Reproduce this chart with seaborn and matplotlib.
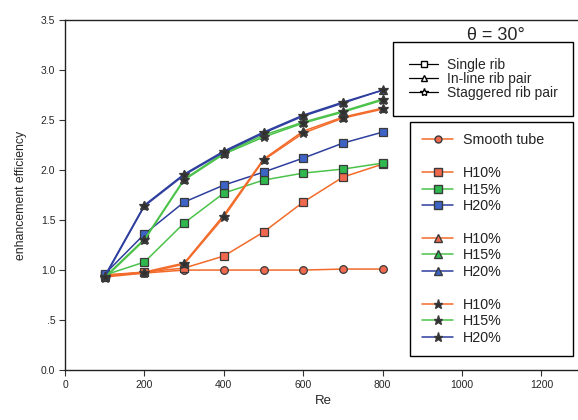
import matplotlib
matplotlib.use("Agg")
import matplotlib.pyplot as plt
from matplotlib.lines import Line2D
import pandas as pd
import seaborn as sns

RE = [100, 200, 300, 400, 500, 600, 700, 800]

SMOOTH = [0.95, 0.97, 1.00, 1.00, 1.00, 1.00, 1.01, 1.01]

SINGLE_H10 = [0.95, 0.98, 1.02, 1.14, 1.38, 1.68, 1.93, 2.06]
SINGLE_H15 = [0.95, 1.08, 1.47, 1.77, 1.90, 1.97, 2.01, 2.07]
SINGLE_H20 = [0.96, 1.36, 1.68, 1.85, 1.98, 2.12, 2.27, 2.38]

INLINE_H10 = [0.94, 0.98, 1.07, 1.55, 2.11, 2.39, 2.53, 2.62]
INLINE_H15 = [0.93, 1.31, 1.91, 2.17, 2.35, 2.48, 2.59, 2.71]
INLINE_H20 = [0.94, 1.65, 1.96, 2.19, 2.38, 2.55, 2.68, 2.80]

STAG_H10 = [0.93, 0.97, 1.06, 1.53, 2.10, 2.37, 2.52, 2.61]
STAG_H15 = [0.92, 1.30, 1.90, 2.16, 2.33, 2.47, 2.58, 2.70]
STAG_H20 = [0.93, 1.64, 1.95, 2.18, 2.37, 2.54, 2.67, 2.80]

HEIGHTS = ["H10", "H15", "H20"]
LINE_COLORS = {"H10": "#F26B2A", "H15": "#4CC24A", "H20": "#2E3F9E"}
FILL_COLORS = {"H10": "#F0694E", "H15": "#2FB84E", "H20": "#3D63C6"}
EDGE = "#3A3A3A"
STAR_FILL = "#2F2F2F"

sns.set_theme(style="white")
plt.rcParams["font.family"] = ["Liberation Sans", "DejaVu Sans"]

fig = plt.figure(figsize=(5.78, 4.2), dpi=100)
ax = fig.add_axes([0.1125, 0.119, 0.893, 0.833])


def draw(values, color, marker, fill, size, z):
    df = pd.DataFrame({"Re": RE, "eff": values})
    sns.lineplot(data=df, x="Re", y="eff", color=color, linewidth=1.1, marker=marker,
                 markersize=size, markerfacecolor=fill, markeredgecolor=EDGE,
                 markeredgewidth=0.9, ax=ax, zorder=z)


draw(SMOOTH, LINE_COLORS["H10"], "o", FILL_COLORS["H10"], 5.5, 3)
for key, vals in zip(HEIGHTS, [SINGLE_H10, SINGLE_H15, SINGLE_H20]):
    draw(vals, LINE_COLORS[key], "s", FILL_COLORS[key], 6, 3)
for key, vals in zip(HEIGHTS, [INLINE_H10, INLINE_H15, INLINE_H20]):
    draw(vals, LINE_COLORS[key], "^", FILL_COLORS[key], 5.5, 4)
for key, vals in zip(HEIGHTS, [STAG_H10, STAG_H15, STAG_H20]):
    draw(vals, LINE_COLORS[key], "*", STAR_FILL, 7.5, 5)

ax.set_xlim(0, 1300)
ax.set_ylim(0, 3.5)
ax.set_xticks([0, 200, 400, 600, 800, 1000, 1200])
ax.set_yticks([0, 0.5, 1.0, 1.5, 2.0, 2.5, 3.0, 3.5])
ax.set_yticklabels(["0.0", ".5", "1.0", "1.5", "2.0", "2.5", "3.0", "3.5"])
ax.tick_params(axis="both", direction="out", length=4, width=0.8, labelsize=7.5,
               color="#333333", bottom=True, left=True, pad=3)
ax.set_xlabel("Re", fontsize=9.5)
ax.set_ylabel("enhancement efficiency", fontsize=8.8, labelpad=10)
for spine in ax.spines.values():
    spine.set_color("#222222")
    spine.set_linewidth(1.0)

# rib-type legend
rib_handles = [
    Line2D([], [], color="black", lw=0.9, marker="s", markerfacecolor="white",
           markeredgecolor="black", markersize=5),
    Line2D([], [], color="black", lw=0.9, marker="^", markerfacecolor="white",
           markeredgecolor="black", markersize=5),
    Line2D([], [], color="black", lw=0.9, marker="*", markerfacecolor="white",
           markeredgecolor="black", markersize=6),
]
leg1 = ax.legend(rib_handles, ["Single rib", "In-line rib pair", "Staggered rib pair"],
                 loc="upper left", bbox_to_anchor=(0.636, 0.937, 0.349, 0.0),
                 mode="expand", fontsize=10, frameon=True, fancybox=False,
                 edgecolor="black", framealpha=1, handlelength=2.1, labelspacing=0.0,
                 borderpad=1.15, handletextpad=0.6, borderaxespad=0)
leg1.get_frame().set_linewidth(1.0)
ax.add_artist(leg1)
ax.text(0.835, 0.957, "θ = 30°", transform=ax.transAxes, ha="center", va="center",
        fontsize=13)

# height legend
blank = Line2D([], [], color="none")
h_handles = [Line2D([], [], color=LINE_COLORS["H10"], lw=1.1, marker="o",
                    markerfacecolor=FILL_COLORS["H10"], markeredgecolor=EDGE, markersize=5),
             blank]
h_labels = ["Smooth tube", ""]
for marker, size, group in [("s", 5.5, "sq"), ("^", 5.5, "tri"), ("*", 6.5, "star")]:
    for key in HEIGHTS:
        fill = STAR_FILL if group == "star" else FILL_COLORS[key]
        h_handles.append(Line2D([], [], color=LINE_COLORS[key], lw=1.1, marker=marker,
                                markerfacecolor=fill, markeredgecolor=EDGE,
                                markersize=size))
        h_labels.append(key + "%")
    if group != "star":
        h_handles.append(blank)
        h_labels.append("")
leg2 = ax.legend(h_handles, h_labels, loc="upper left",
                 bbox_to_anchor=(0.669, 0.709, 0.315, 0.0), mode="expand",
                 fontsize=10.3, frameon=True, fancybox=False, edgecolor="black",
                 framealpha=1, handlelength=2.2, labelspacing=0.17, borderpad=0.8,
                 handletextpad=0.65, borderaxespad=0)
leg2.get_frame().set_linewidth(1.0)
for t in leg2.get_texts():
    t.set_color("#222222")

fig.savefig("out.png", dpi=100)
